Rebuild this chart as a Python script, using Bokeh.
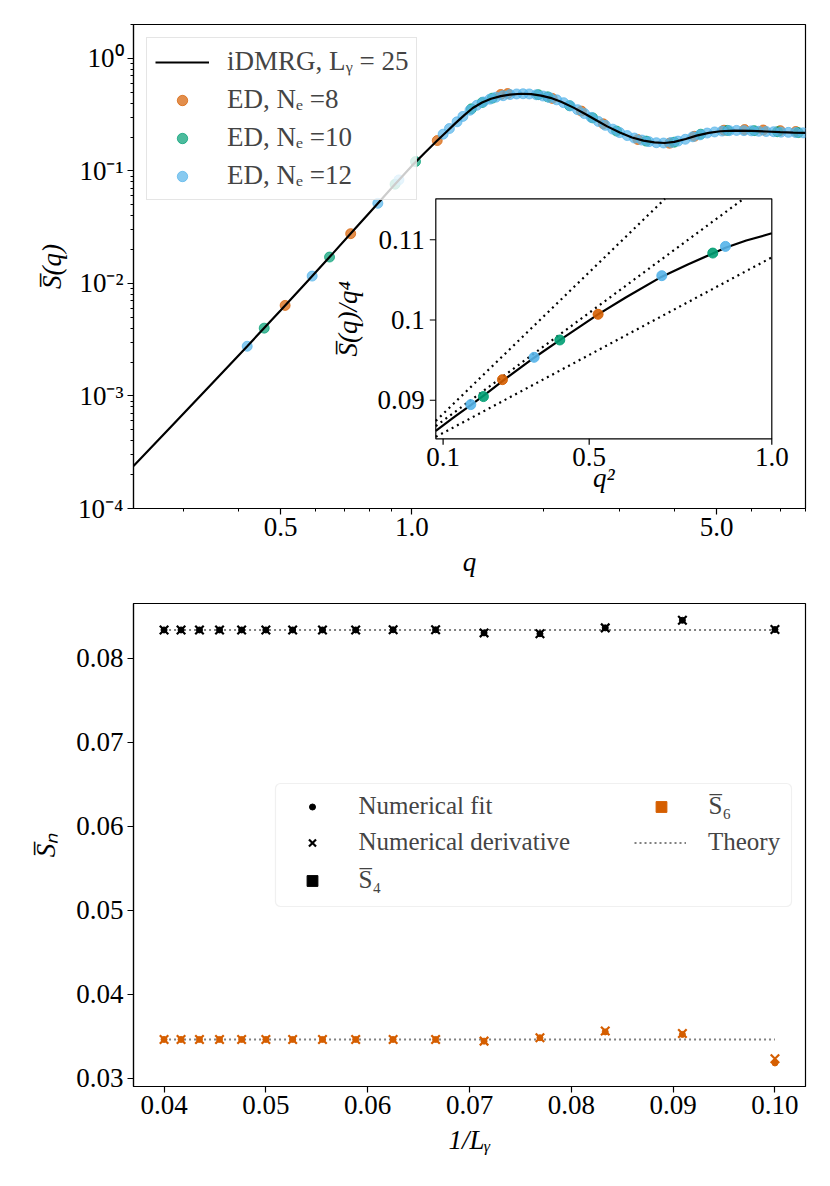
import math
from bokeh.plotting import figure
from bokeh.models import (Range1d, LinearScale, FixedTicker, PrintfTickFormatter,
                          CustomJSTickFormatter, Legend, LegendItem, BoxAnnotation)
from bokeh.layouts import column
from bokeh.embed import file_html
from bokeh.resources import INLINE
from bokeh.core.properties import value

FONT = "Liberation Serif"
FS = "27px"
C8, C10, C12 = "#D55E00", "#009E73", "#56B4E9"
GRAY = "#808080"

# ---------------- top panel data ----------------
curve_q = [0.23, 0.28, 0.35, 0.42, 0.50, 0.58, 0.66, 0.74, 0.82, 0.90,
           1.00, 1.07, 1.144, 1.20, 1.26, 1.32, 1.38, 1.45, 1.52, 1.60,
           1.68, 1.78, 1.88, 1.98, 2.08, 2.20, 2.35, 2.50, 2.65, 2.80,
           3.00, 3.20, 3.40, 3.60, 3.80, 4.00, 4.25, 4.50, 4.80, 5.10,
           5.50, 6.00, 6.50, 7.00, 7.50, 8.00]
curve_S = [2.387e-4, 5.29e-4, 1.316e-3, 2.785e-3, 5.756e-3, 0.01074, 0.018596, 0.030407, 0.047382, 0.070728,
           0.1108, 0.1443, 0.186, 0.222, 0.266, 0.313, 0.362, 0.405, 0.438, 0.462,
           0.477, 0.485, 0.481, 0.467, 0.446, 0.412, 0.365, 0.320, 0.282, 0.250,
           0.219, 0.198, 0.186, 0.179, 0.177, 0.181, 0.192, 0.206, 0.218, 0.225,
           0.228, 0.227, 0.224, 0.221, 0.219, 0.218]

ed8_q = [0.5123, 0.7242, 1.144, 1.60, 1.66, 2.10, 2.45, 2.75, 3.30, 3.90, 4.45, 5.20, 5.80, 6.40, 7.00, 7.60]
ed8_S = [0.006379, 0.027695, 0.186, 0.478, 0.487, 0.441, 0.340, 0.262, 0.190, 0.176, 0.203, 0.230, 0.233, 0.231, 0.228, 0.224]

ed10_q = [0.4587, 0.6477, 0.9156, 1.02, 1.37, 1.45, 1.53, 1.95, 2.05, 2.30, 2.60, 2.95, 3.45, 4.00, 4.60, 5.30, 6.10, 6.90, 7.70]
ed10_S = [0.004005, 0.01716, 0.07615, 0.121, 0.356, 0.405, 0.443, 0.476, 0.455, 0.380, 0.296, 0.226, 0.184, 0.180, 0.212, 0.229, 0.228, 0.223, 0.219]

ed12_q = [0.4193, 0.5909, 0.8359, 0.9344,
          1.18, 1.22, 1.27, 1.31, 1.36, 1.41, 1.46, 1.51, 1.56, 1.62, 1.68, 1.74, 1.80, 1.86, 1.93,
          2.00, 2.07, 2.15, 2.23, 2.31, 2.40, 2.49, 2.58, 2.68, 2.78, 2.89, 3.00, 3.12, 3.24, 3.37,
          3.50, 3.64, 3.78, 3.93, 4.08, 4.24, 4.41, 4.58, 4.76, 4.95, 5.15, 5.35, 5.56, 5.78, 6.01,
          6.25, 6.50, 6.76, 7.03, 7.31, 7.60, 7.90]
ed12_S = [0.002765, 0.011627, 0.05153, 0.08322,
          0.212, 0.238, 0.273, 0.305, 0.346, 0.383, 0.410, 0.434, 0.452, 0.466, 0.477, 0.483, 0.485, 0.483, 0.475,
          0.463, 0.448, 0.428, 0.404, 0.378, 0.350, 0.323, 0.299, 0.275, 0.254, 0.235, 0.219, 0.206, 0.196, 0.188,
          0.182, 0.178, 0.177, 0.179, 0.184, 0.191, 0.201, 0.209, 0.217, 0.222, 0.226, 0.228, 0.229, 0.228, 0.227,
          0.225, 0.224, 0.223, 0.221, 0.220, 0.219, 0.218]

# inset: S(q)/q^4 versus q^2
inset_curve_q2 = [0.08, 0.13, 0.1758, 0.22, 0.2625, 0.3492, 0.4195, 0.5244, 0.60, 0.6988, 0.77, 0.8384, 0.8731, 0.93, 1.0]
inset_curve_val = [0.0862, 0.0879, 0.0894, 0.0909, 0.0924, 0.0953, 0.0975, 0.1007, 0.1028, 0.1054, 0.1069, 0.1083, 0.1090, 0.1099, 0.1108]
inset8_q2 = [0.2625, 0.5244]
inset8_val = [0.09257, 0.10071]
inset10_q2 = [0.2104, 0.4195, 0.8384]
inset10_val = [0.09046, 0.09751, 0.10834]
inset12_q2 = [0.1758, 0.3492, 0.6988, 0.8731]
inset12_val = [0.08946, 0.09535, 0.10552, 0.10917]
inset_line_intercepts = [0.0839, 0.0841, 0.0835]
inset_line_slopes = [0.0441, 0.0336, 0.0243]

inset_xlim = (0.08, 1.0)
inset_ylim = (0.0852, 0.1151)
inset_xticks = [0.1, 0.5, 1.0]
inset_xtick_labels = ["0.1", "0.5", "1.0"]
inset_yticks = [0.09, 0.1, 0.11]
inset_ytick_labels = ["0.09", "0.1", "0.11"]

# ---------------- bottom panel data ----------------
inv_L = [0.04, 0.04167, 0.04348, 0.04545, 0.04762, 0.05, 0.05263, 0.05556,
         0.05882, 0.0625, 0.06667, 0.07143, 0.07692, 0.08333, 0.09091, 0.1]
S4_fit = [0.08335, 0.08335, 0.08335, 0.08335, 0.08335, 0.08335, 0.08335, 0.08335,
          0.08335, 0.08337, 0.08337, 0.0830, 0.0829, 0.0836, 0.0845, 0.0834]
S4_der = [0.08335, 0.08335, 0.08335, 0.08335, 0.08335, 0.08335, 0.08335, 0.08335,
          0.08335, 0.08337, 0.08337, 0.0830, 0.0829, 0.0836, 0.0845, 0.0834]
S6_fit = [0.0346, 0.0346, 0.0346, 0.0346, 0.0346, 0.0346, 0.0346, 0.0346,
          0.0346, 0.0346, 0.0346, 0.0344, 0.0348, 0.0355, 0.0352, 0.0318]
S6_der = [0.0346, 0.0346, 0.0346, 0.0346, 0.0346, 0.0346, 0.0346, 0.0346,
          0.0346, 0.0346, 0.0346, 0.0344, 0.0348, 0.0356, 0.0353, 0.0323]
S4_theory = 1.0 / 12.0
S6_theory = 0.0346

# ---------------- layout constants (px) ----------------
FW = 672
FH1 = 484
FH2 = 483
BL = 133

def style_axes(p):
    p.grid.visible = False
    p.outline_line_color = "black"
    p.outline_line_width = 1.2
    p.background_fill_color = "white"
    p.border_fill_color = "white"
    for ax in (p.xaxis, p.yaxis):
        ax.axis_line_width = 1.2
        ax.major_tick_out = 6
        ax.major_tick_in = 0
        ax.minor_tick_out = 3
        ax.minor_tick_in = 0
        ax.major_tick_line_width = 1.2
        ax.minor_tick_line_width = 1.0
        ax.major_label_text_font = FONT
        ax.major_label_text_font_size = FS
        ax.major_label_text_color = "black"
        ax.axis_label_text_font = FONT
        ax.axis_label_text_font_size = FS
        ax.axis_label_text_font_style = "italic"
        ax.axis_label_text_color = "black"

# ================= top figure =================
p1 = figure(frame_width=FW, frame_height=FH1, min_border_left=BL, min_border_right=10,
            min_border_top=24, min_border_bottom=85,
            x_axis_type="log", y_axis_type="log",
            x_range=Range1d(0.23, 8.0), y_range=Range1d(1e-4, 2.0),
            output_backend="svg", toolbar_location=None)
style_axes(p1)
p1.xaxis.ticker = FixedTicker(ticks=[0.5, 1.0, 5.0],
                              minor_ticks=[0.3, 0.4, 0.6, 0.7, 0.8, 0.9, 2, 3, 4, 6, 7, 8])
p1.xaxis.formatter = PrintfTickFormatter(format="%.1f")
p1.yaxis.ticker = FixedTicker(ticks=[1e-4, 1e-3, 1e-2, 1e-1, 1.0],
                              minor_ticks=[m * 10.0 ** e for e in range(-4, 1) for m in range(2, 10) if m * 10.0 ** e <= 2.0])
p1.yaxis.formatter = CustomJSTickFormatter(code="""
const e = Math.round(Math.log10(tick));
const m = {'-':'\u207b','0':'\u2070','1':'\u00b9','2':'\u00b2','3':'\u00b3','4':'\u2074','5':'\u2075','6':'\u2076','7':'\u2077','8':'\u2078','9':'\u2079'};
return '10' + String(e).split('').map(c => m[c]).join('');
""")
p1.xaxis.major_label_standoff = 3
p1.yaxis.major_label_standoff = 4
p1.xaxis.axis_label = "q"
p1.yaxis.axis_label = "S\u0305(q)"
p1.xaxis.axis_label_standoff = 8
p1.yaxis.axis_label_standoff = 8

r8 = p1.scatter(ed8_q, ed8_S, marker="circle", size=10, color=C8, alpha=0.7)
r10 = p1.scatter(ed10_q, ed10_S, marker="circle", size=10, color=C10, alpha=0.7)
r12 = p1.scatter(ed12_q, ed12_S, marker="circle", size=10, color=C12, alpha=0.7)
rc = p1.line(curve_q, curve_S, line_color="black", line_width=2.2)

# ---- inset drawn through extra (linear) ranges ----
ins_px = dict(left=302.3, right=638.3, top=174.3, bottom=414.3)  # inside main frame
kx = (inset_xlim[1] - inset_xlim[0]) / (ins_px["right"] - ins_px["left"])
ky = (inset_ylim[1] - inset_ylim[0]) / (ins_px["bottom"] - ins_px["top"])
xs0 = inset_xlim[0] - ins_px["left"] * kx
ys1 = inset_ylim[1] + ins_px["top"] * ky
p1.extra_x_ranges = {"ins": Range1d(xs0, xs0 + FW * kx)}
p1.extra_y_ranges = {"ins": Range1d(ys1 - FH1 * ky, ys1)}
p1.extra_x_scales = {"ins": LinearScale()}
p1.extra_y_scales = {"ins": LinearScale()}
IN = dict(x_range_name="ins", y_range_name="ins")

p1.quad(left=[inset_xlim[0]], right=[inset_xlim[1]], bottom=[inset_ylim[0]], top=[inset_ylim[1]],
        fill_color="white", line_color="black", line_width=1.2, **IN)
for a, b in zip(inset_line_intercepts, inset_line_slopes):
    xe = min(inset_xlim[1], (inset_ylim[1] - a) / b)
    xl = [inset_xlim[0], xe]
    p1.line(xl, [a + b * v for v in xl], line_color="black", line_width=2.2,
            line_dash="2 4", **IN)
p1.line(inset_curve_q2, inset_curve_val, line_color="black", line_width=2.2, **IN)
p1.scatter(inset8_q2, inset8_val, marker="circle", size=10, color=C8, alpha=0.9, **IN)
p1.scatter(inset10_q2, inset10_val, marker="circle", size=10, color=C10, alpha=0.9, **IN)
p1.scatter(inset12_q2, inset12_val, marker="circle", size=10, color=C12, alpha=0.9, **IN)

TL = 6
p1.segment(x0=inset_xticks, y0=[inset_ylim[0]] * 3, x1=inset_xticks, y1=[inset_ylim[0] - TL * ky] * 3,
           line_color="black", line_width=1.2, **IN)
p1.segment(x0=[inset_xlim[0]] * 3, y0=inset_yticks, x1=[inset_xlim[0] - TL * kx] * 3, y1=inset_yticks,
           line_color="black", line_width=1.2, **IN)
p1.text(x=inset_xticks, y=[inset_ylim[0] - TL * ky] * 3, text=inset_xtick_labels,
        text_align="center", text_baseline="top", y_offset=3,
        text_font=value(FONT), text_font_size=FS, text_color="black", **IN)
p1.text(x=[inset_xlim[0] - TL * kx] * 3, y=inset_yticks, text=inset_ytick_labels,
        text_align="right", text_baseline="middle", x_offset=-5,
        text_font=value(FONT), text_font_size=FS, text_color="black", **IN)
p1.text(x=[(inset_xlim[0] + inset_xlim[1]) / 2], y=[inset_ylim[0] - 24 * ky], text=["q\u00b2"],
        text_align="center", text_baseline="top",
        text_font=value(FONT), text_font_size=FS, text_font_style="italic", text_color="black", **IN)
p1.text(x=[inset_xlim[0] - 88 * kx], y=[(inset_ylim[0] + inset_ylim[1]) / 2], text=["S\u0305(q)/q\u2074"],
        text_align="center", text_baseline="middle", angle=math.pi / 2,
        text_font=value(FONT), text_font_size=FS, text_font_style="italic", text_color="black", **IN)

leg1 = Legend(items=[LegendItem(label="iDMRG, L\u1d67 = 25", renderers=[rc]),
                     LegendItem(label="ED, N\u2091 =8", renderers=[r8]),
                     LegendItem(label="ED, N\u2091 =10", renderers=[r10]),
                     LegendItem(label="ED, N\u2091 =12", renderers=[r12])],
              location="top_left", margin=13, padding=8, spacing=7,
              glyph_width=54, glyph_height=26, label_standoff=18,
              label_text_font=FONT, label_text_font_size=FS,
              border_line_color="#cccccc", border_line_width=1.2,
              background_fill_color="white", background_fill_alpha=0.8)
p1.add_layout(leg1)

# ================= bottom figure =================
XR2 = (0.037, 0.103)
YR2 = (0.029, 0.0865)
p2 = figure(frame_width=FW, frame_height=FH2, min_border_left=BL, min_border_right=10,
            min_border_top=10, min_border_bottom=85,
            x_range=Range1d(*XR2), y_range=Range1d(*YR2),
            output_backend="svg", toolbar_location=None)
style_axes(p2)
p2.xaxis.ticker = FixedTicker(ticks=[0.04, 0.05, 0.06, 0.07, 0.08, 0.09, 0.10], minor_ticks=[])
p2.yaxis.ticker = FixedTicker(ticks=[0.03, 0.04, 0.05, 0.06, 0.07, 0.08], minor_ticks=[])
p2.xaxis.formatter = PrintfTickFormatter(format="%.2f")
p2.yaxis.formatter = PrintfTickFormatter(format="%.2f")
p2.xaxis.major_label_standoff = 3
p2.yaxis.major_label_standoff = 4
p2.xaxis.axis_label = "1/L\u1d67"
p2.yaxis.axis_label = "S\u0305\u2099"
p2.xaxis.axis_label_standoff = 8
p2.yaxis.axis_label_standoff = 12

th_x = [inv_L[0], inv_L[-1]]
r_th = p2.line(th_x, [S4_theory] * 2, line_color=GRAY, line_width=2, line_dash="2 3")
p2.line(th_x, [S6_theory] * 2, line_color=GRAY, line_width=2, line_dash="2 3")
r_fit = p2.scatter(inv_L, S4_fit, marker="circle", size=6, color="black")
r_der = p2.scatter(inv_L, S4_der, marker="x", size=12, line_width=2.2, color="black")
p2.scatter(inv_L, S6_fit, marker="circle", size=6, color=C8)
p2.scatter(inv_L, S6_der, marker="x", size=12, line_width=2.2, color=C8)
# square keys for the legend (zero-size markers on the S4 / S6 series)
r_s4 = p2.scatter(inv_L, S4_fit, marker="square", size=0, color="black")
r_s6 = p2.scatter(inv_L, S6_fit, marker="square", size=0, color=C8)

# legend frame (page px -> data)
F2_LEFT, F2_TOP = 133.0, 603.0
def xd(px):
    return XR2[0] + (px - F2_LEFT) / FW * (XR2[1] - XR2[0])
def yd(py):
    return YR2[0] + (F2_TOP + FH2 - py) / FH2 * (YR2[1] - YR2[0])
p2.add_layout(BoxAnnotation(left=xd(275), right=xd(791), top=yd(783), bottom=yd(906),
                            fill_color="white", fill_alpha=0.8, line_color="#cccccc",
                            line_width=1.2, border_radius=5))

ITEM_H = 28
def single_legend(label, rend, x_px, row_px, gw, gh, standoff):
    leg = Legend(items=[LegendItem(label=label, renderers=[rend])],
                 location=(x_px - F2_LEFT, F2_TOP + FH2 - row_px - ITEM_H / 2),
                 padding=0, margin=0, spacing=0, glyph_width=gw, glyph_height=gh,
                 label_standoff=standoff, label_text_font=FONT, label_text_font_size="25px",
                 border_line_alpha=0, background_fill_alpha=0)
    p2.add_layout(leg)

single_legend("Numerical fit", r_fit, 291.5, 806, 40, 15, 27)
single_legend("Numerical derivative", r_der, 291.5, 842, 40, 25, 27)
single_legend("S\u0305\u2084", r_s4, 291.5, 880, 40, 27, 27)
single_legend("S\u0305\u2086", r_s6, 640.5, 806, 40, 27, 28)
single_legend("Theory", r_th, 634, 842, 52, 27, 22)

layout = column(p1, p2)
open("out.html", "w").write(file_html(layout, INLINE))
